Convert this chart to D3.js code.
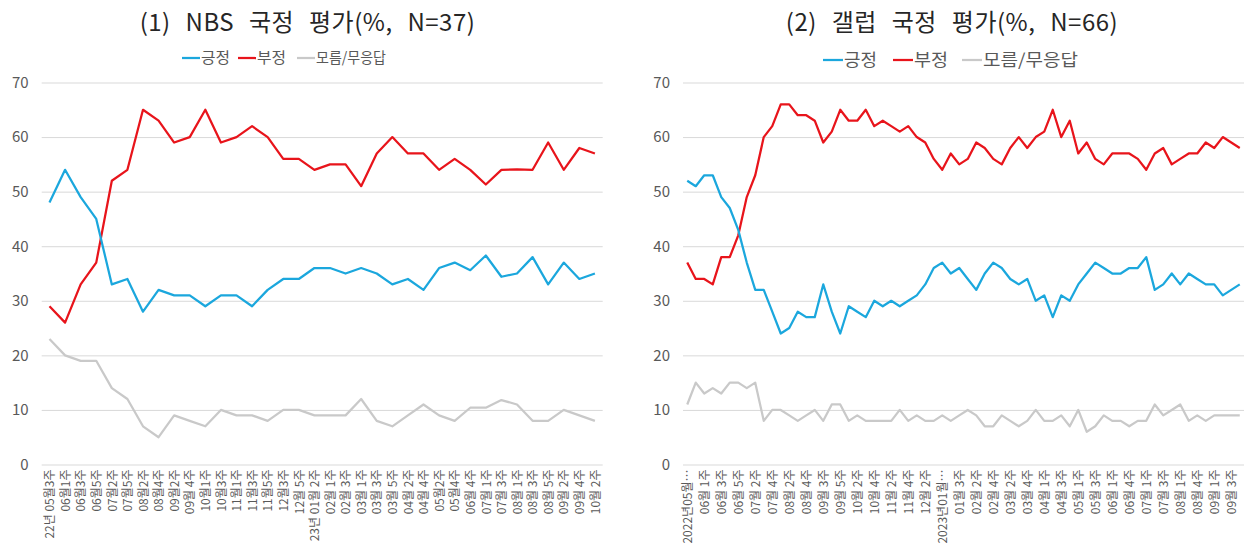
<!DOCTYPE html>
<html>
<head>
<meta charset="utf-8">
<script src="https://cdn.jsdelivr.net/npm/d3@7"></script>
<style>
  body { margin: 0; background: #fff; }
  text { font-family: "Noto Sans CJK KR", "Noto Sans", sans-serif; }
</style>
</head>
<body>
<script>
// canvas
var width = 1248, height = 547;

// y axis ticks, shared
var yTicks = [0, 10, 20, 30, 40, 50, 60, 70];

// series names
var seriesNames = ["긍정", "부정", "모름/무응답"];
var seriesColors = ["#1ba7dd", "#e8141b", "#c9c9c9"];

// (1) NBS, 36 surveys
var nbsWeeks = ["22년 05월3주", "06월1주", "06월3주", "06월5주", "07월2주", "07월5주", "08월2주", "08월4주",
  "09월2주", "09월 4주", "10월1주", "10월3주", "11월1주", "11월3주", "11월5주", "12월3주", "12월 5주",
  "23년 01월 2주", "02월 1주", "02월 3주", "03월 1주", "03월 3주", "03월 5주", "04월 2주", "04월 4주",
  "05월2주", "05월4주", "06월 4주", "07월 1주", "07월 3주", "08월 1주", "08월 3주", "08월 5주",
  "09월 2주", "09월 4주", "10월 2주"];
var nbsPos = [48, 54, 49, 45, 33, 34, 28, 32, 31, 31, 29, 31, 31, 29, 32, 34, 34, 36, 36, 35,
  36, 35, 33, 34, 32, 36, 37, 35.6, 38.3, 34.4, 35, 38, 33, 37, 34, 35];
var nbsNeg = [29, 26, 33, 37, 52, 54, 65, 63, 59, 60, 65, 59, 60, 62, 60, 56, 56, 54, 55, 55,
  51, 57, 60, 57, 57, 54, 56, 54, 51.3, 54, 54.1, 54, 59, 54, 58, 57];
var nbsDk = [23, 20, 19, 19, 14, 12, 7, 5, 9, 8, 7, 10, 9, 9, 8, 10, 10, 9, 9, 9,
  12, 8, 7, 9, 11, 9, 8, 10.4, 10.4, 11.8, 11, 8, 8, 10, 9, 8];

// (2) Gallup, 66 surveys (only every other week is labelled)
var gallupWeeks = ["2022년05월…", "05월 5주", "06월 1주", "06월 2주", "06월 3주", "06월 4주", "06월 5주",
  "07월 1주", "07월 2주", "07월 3주", "07월 4주", "08월 1주", "08월 2주", "08월 3주", "08월 4주",
  "09월 1주", "09월 3주", "09월 4주", "09월 5주", "10월 1주", "10월 2주", "10월 3주", "10월 4주",
  "11월 1주", "11월 2주", "11월 3주", "11월 4주", "12월 1주", "12월 2주", "12월 3주",
  "2023년01월…", "01월 2주", "01월 3주", "02월 1주", "02월 2주", "02월 3주", "02월 4주",
  "03월 1주", "03월 2주", "03월 3주", "03월 4주", "03월 5주", "04월 1주", "04월 2주", "04월 3주",
  "04월 4주", "05월 1주", "05월 2주", "05월 3주", "05월 4주", "06월 1주", "06월 2주", "06월 4주",
  "06월 5주", "07월 1주", "07월 2주", "07월 3주", "07월 4주", "08월 1주", "08월 3주", "08월 4주",
  "08월 5주", "09월 1주", "09월 2주", "09월 3주", "09월 4주"];
var gallupPos = [52, 51, 53, 53, 49, 47, 43, 37, 32, 32, 28, 24, 25, 28, 27, 27, 33, 28, 24, 29,
  28, 27, 30, 29, 30, 29, 30, 31, 33, 36, 37, 35, 36, 34, 32, 35, 37, 36, 34, 33,
  34, 30, 31, 27, 31, 30, 33, 35, 37, 36, 35, 35, 36, 36, 38, 32, 33, 35, 33, 35,
  34, 33, 33, 31, 32, 33];
var gallupNeg = [37, 34, 34, 33, 38, 38, 42, 49, 53, 60, 62, 66, 66, 64, 64, 63, 59, 61, 65, 63,
  63, 65, 62, 63, 62, 61, 62, 60, 59, 56, 54, 57, 55, 56, 59, 58, 56, 55, 58, 60,
  58, 60, 61, 65, 60, 63, 57, 59, 56, 55, 57, 57, 57, 56, 54, 57, 58, 55, 56, 57,
  57, 59, 58, 60, 59, 58];
var gallupDk = [11, 15, 13, 14, 13, 15, 15, 14, 15, 8, 10, 10, 9, 8, 9, 10, 8, 11, 11, 8,
  9, 8, 8, 8, 8, 10, 8, 9, 8, 8, 9, 8, 9, 10, 9, 7, 7, 9, 8, 7,
  8, 10, 8, 8, 9, 7, 10, 6, 7, 9, 8, 8, 7, 8, 8, 11, 9, 10, 11, 8,
  9, 8, 9, 9, 9, 9];

var svg = d3.select("body").append("svg")
  .attr("width", width)
  .attr("height", height);

function drawPanel(cfg) {
  var g = svg.append("g");
  var n = cfg.labels.length;

  var x = d3.scalePoint()
    .domain(d3.range(n))
    .range([cfg.left, cfg.right])
    .padding(0.5);
  var y = d3.scaleLinear()
    .domain([0, 70])
    .range([464.5, 82.5]);

  // gridlines + y labels
  var yAxis = g.append("g")
    .attr("transform", "translate(" + cfg.left + ",0)")
    .call(d3.axisLeft(y).tickValues(yTicks).tickSize(-(cfg.right - cfg.left)).tickPadding(13));
  yAxis.select(".domain").remove();
  yAxis.selectAll("line").attr("stroke", "#d9d9d9");
  yAxis.selectAll("text")
    .attr("fill", "#595959")
    .style("font-size", "15px");

  // x labels, rotated
  var ticks = d3.range(n).filter(function(i) { return i % cfg.every === 0; });
  var xAxis = g.append("g")
    .attr("transform", "translate(0,464.5)")
    .call(d3.axisBottom(x).tickValues(ticks).tickSize(0)
      .tickFormat(function(i) { return cfg.labels[i]; }));
  xAxis.select(".domain").remove();
  xAxis.selectAll("text")
    .attr("fill", "#595959")
    .style("font-size", "12px")
    .attr("text-anchor", "end")
    .attr("dy", "0.35em")
    .attr("transform", "translate(0,5) rotate(-90)")
    .attr("y", 0);

  // lines
  var line = d3.line()
    .x(function(d, i) { return x(i); })
    .y(function(d) { return y(d); });
  var series = [cfg.dk, cfg.neg, cfg.pos];
  var cols = [seriesColors[2], seriesColors[1], seriesColors[0]];
  series.forEach(function(s, k) {
    g.append("path")
      .datum(s)
      .attr("fill", "none")
      .attr("stroke", cols[k])
      .attr("stroke-width", 2.25)
      .attr("stroke-linejoin", "round")
      .attr("d", line);
  });

  // title
  g.append("text")
    .attr("x", cfg.titleX)
    .attr("y", 31)
    .attr("text-anchor", "middle")
    .attr("fill", "#262626")
    .style("font-size", "24px")
    .style("letter-spacing", "0.5px")
    .style("word-spacing", "9px")
    .text(cfg.title);

  // legend
  seriesNames.forEach(function(name, k) {
    var lx = cfg.legendX[k];
    g.append("line")
      .attr("x1", lx).attr("x2", lx + cfg.keyW)
      .attr("y1", cfg.legendY).attr("y2", cfg.legendY)
      .attr("stroke", seriesColors[k])
      .attr("stroke-width", 2.25);
    g.append("text")
      .attr("x", lx + cfg.keyW + 1)
      .attr("y", cfg.legendY)
      .attr("dy", "0.35em")
      .attr("fill", "#595959")
      .attr("textLength", cfg.legendW[k])
      .attr("lengthAdjust", "spacingAndGlyphs")
      .style("font-size", cfg.legendFont + "px")
      .text(name);
  });
}

drawPanel({
  left: 41.7, right: 602.7, titleX: 307.5,
  legendX: [182, 238, 297], legendW: [29, 29, 70], keyW: 18, legendFont: 15, legendY: 58,
  title: "(1) NBS 국정 평가(%, N=37)",
  labels: nbsWeeks, pos: nbsPos, neg: nbsNeg, dk: nbsDk, every: 1
});

drawPanel({
  left: 683, right: 1244, titleX: 952,
  legendX: [823, 893, 962], legendW: [33, 34, 95], keyW: 20, legendFont: 17, legendY: 60,
  title: "(2) 갤럽 국정 평가(%, N=66)",
  labels: gallupWeeks, pos: gallupPos, neg: gallupNeg, dk: gallupDk, every: 2
});
</script>
</body>
</html>
